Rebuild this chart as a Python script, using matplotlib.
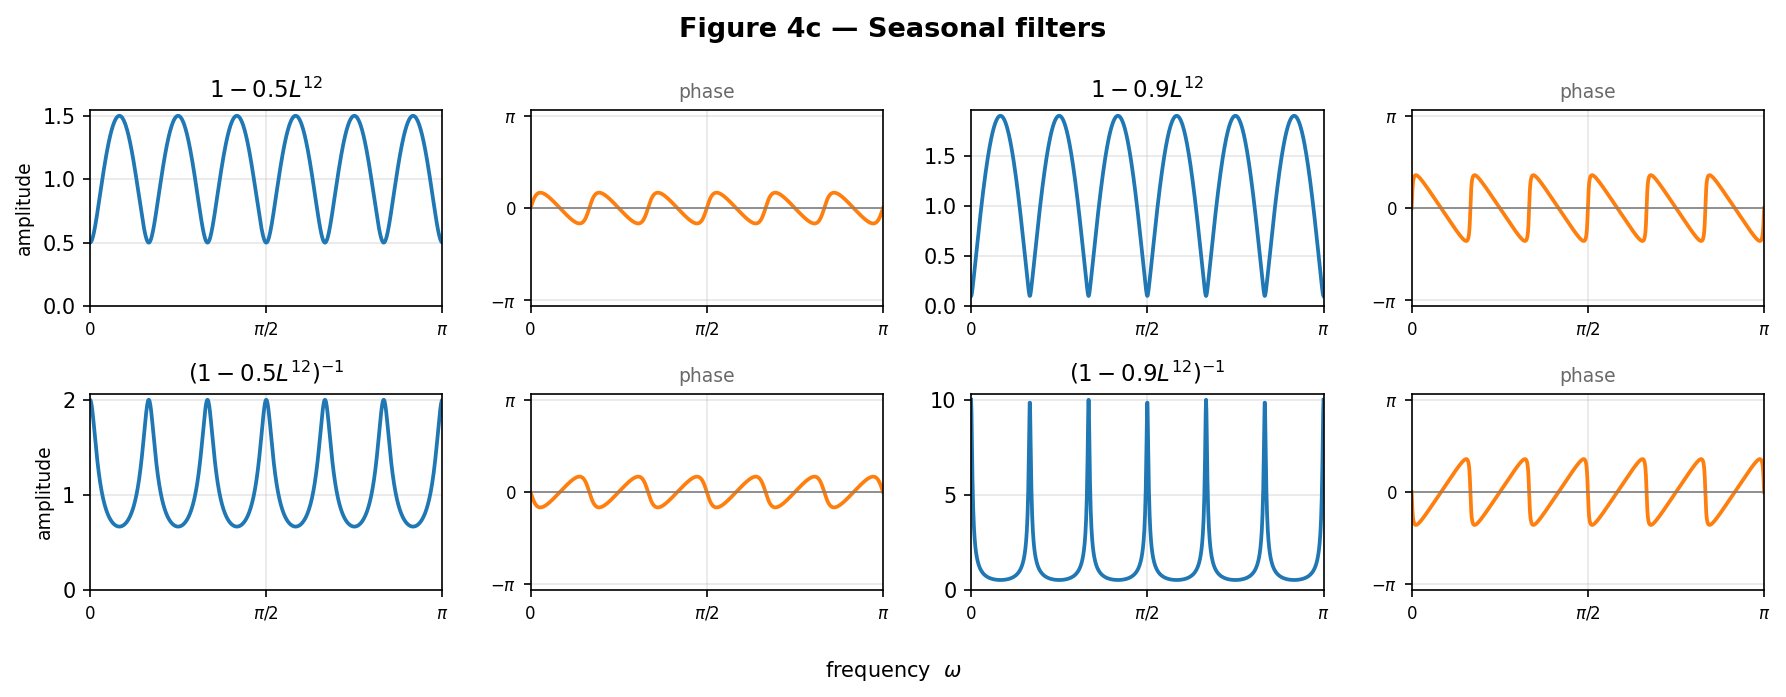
import numpy as np
import matplotlib
matplotlib.use("Agg")
import matplotlib.pyplot as plt

# Filter definitions (data)
coefs = [0.5, 0.9]          # seasonal AR/MA coefficient
season_lag = 12             # L^12
n_freq = 1000
amp_titles_top = [r"$1-0.5L^{12}$", r"$1-0.9L^{12}$"]
amp_titles_bot = [r"$(1-0.5L^{12})^{-1}$", r"$(1-0.9L^{12})^{-1}$"]
xtick_vals = [0, np.pi / 2, np.pi]
xtick_labels = ["0", r"$\pi/2$", r"$\pi$"]
ptick_vals = [-np.pi, 0, np.pi]
ptick_labels = [r"$-\pi$", "0", r"$\pi$"]

omega = np.linspace(0, np.pi, n_freq)

fig, axes = plt.subplots(2, 4, figsize=(11.907, 4.647), dpi=150)
fig.subplots_adjust(left=0.0504, right=0.9877, top=0.842, bottom=0.1535,
                    wspace=0.25, hspace=0.449)

blue = "#1f77b4"
orange = "#ff7f0e"

for j, a in enumerate(coefs):
    h = 1 - a * np.exp(-1j * season_lag * omega)
    for i, (resp, title) in enumerate([(h, amp_titles_top[j]), (1 / h, amp_titles_bot[j])]):
        amp = np.abs(resp)
        ph = np.angle(resp)
        ax_a = axes[i, 2 * j]
        ax_p = axes[i, 2 * j + 1]
        ax_a.plot(omega, amp, color=blue, lw=1.8)
        ax_a.set_ylim(0, amp.max() * 1.03)
        ax_a.set_title(title, fontsize=11)
        ax_p.plot(omega, ph, color=orange, lw=1.8)
        ax_p.axhline(0, color="gray", lw=0.8)
        ax_p.set_ylim(-np.pi - 0.19, np.pi + 0.19)
        ax_p.set_yticks(ptick_vals)
        ax_p.set_yticklabels(ptick_labels)
        ax_p.tick_params(axis="y", labelsize=8)
        ax_p.set_title("phase", fontsize=9, color="dimgray")
        for ax in (ax_a, ax_p):
            ax.set_xlim(0, np.pi)
            ax.set_xticks(xtick_vals)
            ax.set_xticklabels(xtick_labels)
            ax.tick_params(axis="x", labelsize=8)
            ax.grid(True, alpha=0.3)
        ax_a.tick_params(axis="y", labelsize=10)

axes[0, 0].set_ylabel("amplitude", fontsize=9)
axes[1, 0].set_ylabel("amplitude", fontsize=9)

fig.suptitle("Figure 4c — Seasonal filters", fontsize=13, fontweight="bold", y=0.975)
fig.supxlabel(r"frequency  $\omega$", fontsize=10, y=0.02)

fig.savefig("out.png", dpi=150)
